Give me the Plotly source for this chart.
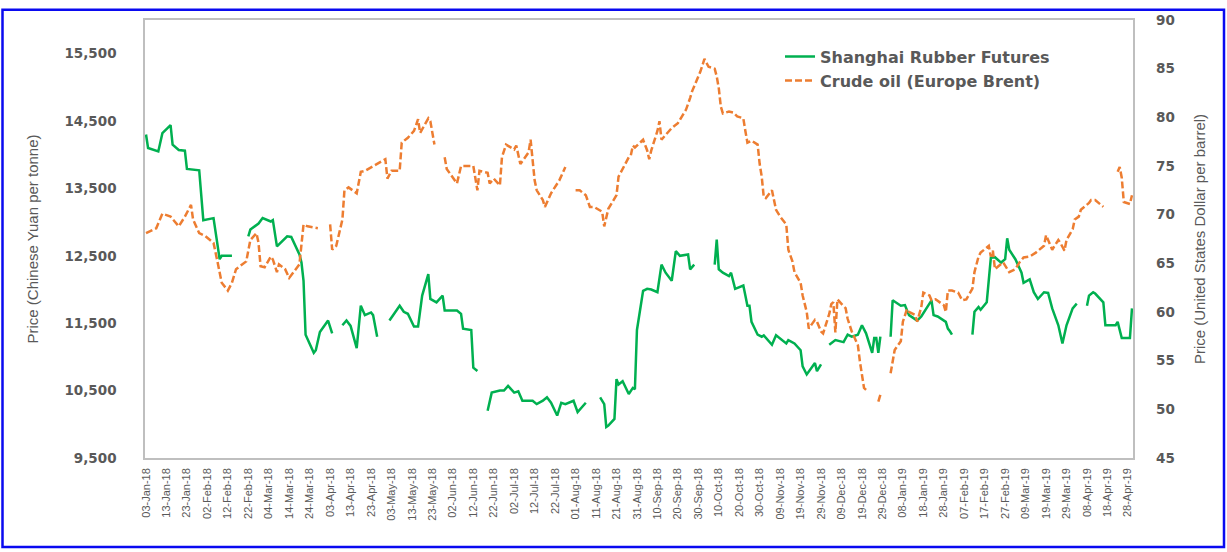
import plotly.graph_objects as go

# ---------------- data ----------------
rubber_dates = [
    "2018-01-03", "2018-01-04", "2018-01-09", "2018-01-11", "2018-01-15", "2018-01-16", "2018-01-19",
    "2018-01-22", "2018-01-23", "2018-01-29", "2018-01-31", "2018-02-05", "2018-02-08", "2018-02-09",
    "2018-02-14", "2018-02-19", "2018-02-22", "2018-02-23", "2018-02-27", "2018-03-01", "2018-03-05",
    "2018-03-06", "2018-03-08", "2018-03-13", "2018-03-15", "2018-03-19", "2018-03-20", "2018-03-21",
    "2018-03-22", "2018-03-26", "2018-03-27", "2018-03-29", "2018-04-02", "2018-04-04", "2018-04-06",
    "2018-04-09", "2018-04-11", "2018-04-13", "2018-04-16", "2018-04-18", "2018-04-20", "2018-04-23",
    "2018-04-24", "2018-04-26", "2018-04-30", "2018-05-02", "2018-05-07", "2018-05-09", "2018-05-11",
    "2018-05-14", "2018-05-16", "2018-05-18", "2018-05-21", "2018-05-22", "2018-05-25", "2018-05-28",
    "2018-05-29", "2018-06-04", "2018-06-06", "2018-06-07", "2018-06-11", "2018-06-12", "2018-06-14",
    "2018-06-18", "2018-06-19", "2018-06-21", "2018-06-25", "2018-06-27", "2018-06-29", "2018-07-02",
    "2018-07-04", "2018-07-06", "2018-07-11", "2018-07-13", "2018-07-16", "2018-07-18", "2018-07-20",
    "2018-07-23", "2018-07-25", "2018-07-27", "2018-07-31", "2018-08-02", "2018-08-06", "2018-08-08",
    "2018-08-13", "2018-08-15", "2018-08-16", "2018-08-17", "2018-08-20", "2018-08-21", "2018-08-22",
    "2018-08-24", "2018-08-27", "2018-08-29", "2018-08-30", "2018-08-31", "2018-09-03", "2018-09-05",
    "2018-09-07", "2018-09-10", "2018-09-12", "2018-09-14", "2018-09-17", "2018-09-19", "2018-09-21",
    "2018-09-25", "2018-09-26", "2018-09-28", "2018-10-01", "2018-10-08", "2018-10-09", "2018-10-10",
    "2018-10-12", "2018-10-15", "2018-10-16", "2018-10-18", "2018-10-22", "2018-10-23", "2018-10-24",
    "2018-10-25", "2018-10-26", "2018-10-29", "2018-10-31", "2018-11-01", "2018-11-05", "2018-11-07",
    "2018-11-12", "2018-11-13", "2018-11-16", "2018-11-19", "2018-11-20", "2018-11-22", "2018-11-26",
    "2018-11-27", "2018-11-29", "2018-11-30", "2018-12-03", "2018-12-06", "2018-12-10", "2018-12-12",
    "2018-12-14", "2018-12-17", "2018-12-19", "2018-12-21", "2018-12-24", "2018-12-25", "2018-12-26",
    "2018-12-27", "2018-12-28", "2018-12-31", "2019-01-02", "2019-01-03", "2019-01-07", "2019-01-09",
    "2019-01-11", "2019-01-15", "2019-01-17", "2019-01-21", "2019-01-22", "2019-01-23", "2019-01-25",
    "2019-01-29", "2019-01-30", "2019-01-31", "2019-02-01", "2019-02-04", "2019-02-11", "2019-02-12",
    "2019-02-14", "2019-02-15", "2019-02-18", "2019-02-19", "2019-02-20", "2019-02-22", "2019-02-25",
    "2019-02-27", "2019-02-28", "2019-03-01", "2019-03-04", "2019-03-07", "2019-03-08", "2019-03-11",
    "2019-03-13", "2019-03-15", "2019-03-18", "2019-03-20", "2019-03-22", "2019-03-25", "2019-03-27",
    "2019-03-29", "2019-04-01", "2019-04-03", "2019-04-05", "2019-04-08", "2019-04-09", "2019-04-11",
    "2019-04-12", "2019-04-16", "2019-04-17", "2019-04-22", "2019-04-23", "2019-04-25", "2019-04-29",
    "2019-04-30",
]
rubber_values = [
    14300, 14100, 14050, 14320, 14440, 14150, 14070,
    14060, 13790, 13770, 13030, 13060, 12450, 12500,
    12500, None, 12790, 12890, 12980, 13060, 13010,
    13030, 12640, 12790, 12780, 12520, 12400, 12130,
    11330, 11060, 11100, 11370, 11540, 11350, None,
    11470, 11540, 11460, 11130, 11760, 11620, 11660,
    11620, 11300, None, 11540, 11760, 11670, 11640,
    11450, 11450, 11910, 12230, 11860, 11810, 11910,
    11690, 11690, 11640, 11420, 11400, 10840, 10790,
    None, 10200, 10470, 10500, 10500, 10570, 10470,
    10490, 10350, 10350, 10300, 10350, 10400, 10320,
    10130, 10320, 10300, 10350, 10180, 10320, None,
    10400, 10300, 9960, 9980, 10080, 10670, 10590,
    10640, 10450, 10540, 10520, 11400, 11980, 12010,
    12000, 11960, 12370, 12250, 12130, 12570, 12500,
    12520, 12300, 12370, None, 12370, 12740, 12300,
    12250, 12200, 12250, 12010, 12060, 11910, 11760,
    11760, 11520, 11330, 11300, 11320, 11180, 11320,
    11200, 11250, 11200, 11100, 10860, 10740, 10910,
    10790, 10890, None, 11180, 11250, 11220, 11330,
    11300, 11330, 11470, 11350, 11060, 11280, 11280,
    11060, 11300, None, 11300, 11840, 11760, 11770,
    11620, 11540, 11600, 11790, 11840, 11620, 11600,
    11520, 11420, 11380, 11330, None, 11330, 11670,
    11740, 11700, 11810, 12200, 12470, 12480, 12400,
    12450, 12760, 12590, 12450, 12250, 12100, 12150,
    11960, 11860, 11960, 11950, 11720, 11470, 11200,
    11470, 11720, 11790, None, 11760, 11910, 11960,
    11940, 11810, 11470, 11470, 11520, 11280, 11280,
    11720,
]

brent_dates = [
    "2018-01-03", "2018-01-08", "2018-01-11", "2018-01-15", "2018-01-17", "2018-01-19", "2018-01-22",
    "2018-01-25", "2018-01-26", "2018-01-29", "2018-02-01", "2018-02-05", "2018-02-07", "2018-02-09",
    "2018-02-12", "2018-02-14", "2018-02-16", "2018-02-21", "2018-02-23", "2018-02-26", "2018-02-27",
    "2018-02-28", "2018-03-02", "2018-03-05", "2018-03-06", "2018-03-08", "2018-03-09", "2018-03-12",
    "2018-03-14", "2018-03-19", "2018-03-21", "2018-03-23", "2018-03-28", "2018-03-30", "2018-04-03",
    "2018-04-04", "2018-04-06", "2018-04-09", "2018-04-10", "2018-04-12", "2018-04-16", "2018-04-18",
    "2018-04-20", "2018-04-24", "2018-04-27", "2018-04-30", "2018-05-01", "2018-05-03", "2018-05-07",
    "2018-05-08", "2018-05-11", "2018-05-14", "2018-05-16", "2018-05-17", "2018-05-21", "2018-05-22",
    "2018-05-24", "2018-05-28", "2018-05-29", "2018-05-30", "2018-06-01", "2018-06-04", "2018-06-06",
    "2018-06-08", "2018-06-12", "2018-06-14", "2018-06-15", "2018-06-19", "2018-06-20", "2018-06-22",
    "2018-06-25", "2018-06-26", "2018-06-28", "2018-07-02", "2018-07-03", "2018-07-05", "2018-07-09",
    "2018-07-10", "2018-07-11", "2018-07-12", "2018-07-13", "2018-07-16", "2018-07-17", "2018-07-20",
    "2018-07-24", "2018-07-27", "2018-07-30", "2018-08-01", "2018-08-03", "2018-08-06", "2018-08-08",
    "2018-08-10", "2018-08-14", "2018-08-15", "2018-08-16", "2018-08-17", "2018-08-21", "2018-08-22",
    "2018-08-27", "2018-08-28", "2018-08-29", "2018-08-30", "2018-09-03", "2018-09-05", "2018-09-06",
    "2018-09-07", "2018-09-10", "2018-09-11", "2018-09-12", "2018-09-14", "2018-09-17", "2018-09-20",
    "2018-09-24", "2018-09-26", "2018-09-27", "2018-10-01", "2018-10-02", "2018-10-03", "2018-10-05",
    "2018-10-08", "2018-10-09", "2018-10-10", "2018-10-11", "2018-10-12", "2018-10-15", "2018-10-17",
    "2018-10-19", "2018-10-22", "2018-10-23", "2018-10-24", "2018-10-26", "2018-10-29", "2018-10-30",
    "2018-10-31", "2018-11-01", "2018-11-02", "2018-11-05", "2018-11-07", "2018-11-09", "2018-11-12",
    "2018-11-13", "2018-11-15", "2018-11-16", "2018-11-19", "2018-11-20", "2018-11-22", "2018-11-23",
    "2018-11-26", "2018-11-27", "2018-11-28", "2018-11-29", "2018-11-30", "2018-12-03", "2018-12-04",
    "2018-12-05", "2018-12-06", "2018-12-07", "2018-12-10", "2018-12-11", "2018-12-12", "2018-12-14",
    "2018-12-17", "2018-12-18", "2018-12-20", "2018-12-21", "2018-12-24", "2018-12-27", "2018-12-28",
    "2018-12-31", "2019-01-02", "2019-01-03", "2019-01-04", "2019-01-07", "2019-01-08", "2019-01-10",
    "2019-01-11", "2019-01-14", "2019-01-15", "2019-01-17", "2019-01-18", "2019-01-21", "2019-01-22",
    "2019-01-24", "2019-01-28", "2019-01-29", "2019-01-30", "2019-02-01", "2019-02-04", "2019-02-06",
    "2019-02-08", "2019-02-11", "2019-02-12", "2019-02-14", "2019-02-15", "2019-02-19", "2019-02-20",
    "2019-02-21", "2019-02-22", "2019-02-26", "2019-03-01", "2019-03-04", "2019-03-06", "2019-03-08",
    "2019-03-11", "2019-03-14", "2019-03-18", "2019-03-19", "2019-03-21", "2019-03-22", "2019-03-25",
    "2019-03-26", "2019-03-28", "2019-03-29", "2019-04-01", "2019-04-02", "2019-04-04", "2019-04-05",
    "2019-04-09", "2019-04-10", "2019-04-12", "2019-04-15", "2019-04-16", "2019-04-18", "2019-04-23",
    "2019-04-24", "2019-04-25", "2019-04-26", "2019-04-29", "2019-04-30",
]
brent_values = [
    68.1, 68.6, 70.1, 69.8, 69.3, 68.8, 69.8,
    71.0, 69.5, 68.1, 67.8, 67.1, 65.1, 63.0,
    62.2, 63.0, 64.4, 65.2, 67.4, 68.1, 67.1,
    64.7, 64.6, 65.7, 65.4, 64.1, 64.9, 64.4,
    63.5, 64.9, 69.0, 68.8, 68.6, None, 69.0,
    66.4, 66.8, 69.5, 72.5, 72.8, 72.2, 74.4,
    74.5, 75.0, 75.4, 75.7, 73.7, 74.5, 74.5,
    77.4, 77.9, 78.6, 79.8, 78.4, 79.9, 79.6,
    77.2, None, 75.9, 74.7, 74.1, 73.2, 75.0,
    75.0, 75.0, 72.5, 74.5, 74.3, 73.2, 73.7,
    73.0, 75.9, 77.2, 76.7, 77.1, 75.2, 76.4,
    77.7, 75.9, 73.5, 72.5, 71.5, 70.8, 72.2,
    73.5, 74.9, None, 72.5, 72.5, 72.0, 70.8,
    70.8, 70.3, 68.8, 69.8, 70.6, 72.0, 73.9,
    75.9, 76.1, 77.1, 76.9, 77.7, 76.6, 75.7,
    76.6, 78.6, 79.6, 77.7, 78.2, 78.9, 79.4,
    80.8, 82.0, 82.7, 84.7, 85.5, 86.0, 85.2,
    85.0, 84.2, 83.0, 81.1, 80.4, 80.6, 80.5,
    80.1, 79.9, 78.6, 77.4, 77.6, 77.2, 75.2,
    73.9, 71.8, 71.7, 72.5, 70.5, 69.8, 69.0,
    66.4, 65.2, 64.1, 63.0, 61.7, 60.0, 58.3,
    59.2, 59.0, 58.5, 58.0, 57.8, 59.8, 60.8,
    61.0, 57.9, 61.3, 60.6, 60.4, 59.3, 58.0,
    56.6, 54.9, 52.2, 52.0, None, 50.8, 51.5,
    None, 53.7, 54.9, 56.1, 57.0, 59.0, 60.3,
    60.0, 59.7, 59.0, 60.5, 62.0, 61.7, 61.2,
    61.3, 60.7, 60.0, 62.2, 62.2, 62.0, 61.2,
    61.3, 62.4, 64.1, 65.7, 66.1, 66.8, 65.7,
    66.3, 64.4, 65.1, 64.1, 64.4, 65.1, 65.6,
    65.7, 66.1, 66.8, 67.9, 66.9, 66.4, 67.4,
    67.1, 66.3, 67.4, 68.5, 69.5, 69.8, 70.5,
    71.2, 71.5, 71.5, 71.0, 70.8, None, 74.4,
    74.9, 73.8, 71.3, 71.1, 72.0,
]

left_ticks = [9500, 10500, 11500, 12500, 13500, 14500, 15500]
right_ticks = [45, 50, 55, 60, 65, 70, 75, 80, 85, 90]

GREEN = "#00B050"
ORANGE = "#ED7D31"
GRAY = "#595959"

fig = go.Figure()
fig.add_trace(go.Scatter(
    x=rubber_dates, y=rubber_values, name="Shanghai Rubber Futures",
    mode="lines", line=dict(color=GREEN, width=2.5), connectgaps=False, yaxis="y",
))
fig.add_trace(go.Scatter(
    x=brent_dates, y=brent_values, name="Crude oil (Europe Brent)",
    mode="lines", line=dict(color=ORANGE, width=2.5, dash="7px,3px"), connectgaps=False, yaxis="y2",
))

L, R, T, B = 145, 94, 13, 94
W, H = 1227, 552
pw, ph = W - L - R, H - T - B

fig.update_layout(
    width=W, height=H,
    margin=dict(l=L, r=R, t=T, b=B, pad=0),
    paper_bgcolor="white", plot_bgcolor="white",
    showlegend=True,
    legend=dict(
        x=(780 - L) / pw, y=(H - B - 33) / ph, xanchor="left", yanchor="top",
        bgcolor="rgba(0,0,0,0)", borderwidth=0,
        font=dict(family="DejaVu Sans", size=16, color=GRAY, weight="bold"),
        tracegroupgap=0,
    ),
    xaxis=dict(
        type="date",
        range=["2018-01-02 12:00", "2019-04-30 12:00"],
        tick0="2018-01-03", dtick=10 * 86400000,
        tickformat="%d-%b-%y", tickangle=-90,
        tickfont=dict(family="Liberation Sans", size=11, color=GRAY),
        showgrid=False, zeroline=False,
        showline=True, linecolor="#BFBFBF", linewidth=1.5, mirror=True,
        ticks="", ticklabelstandoff=4,
    ),
    yaxis=dict(
        range=[9500, 16000], tickvals=left_ticks, tickformat=",",
        tickfont=dict(family="DejaVu Sans", size=13.5, color=GRAY, weight="bold"),
        showgrid=False, zeroline=False,
        showline=True, linecolor="#BFBFBF", linewidth=1.5, mirror=True,
        ticks="", ticklabelstandoff=24,
        title=dict(text="Price (Chinese Yuan per tonne)",
                   font=dict(family="Liberation Sans", size=15, color=GRAY), standoff=22),
    ),
    yaxis2=dict(
        range=[45, 90], tickvals=right_ticks, overlaying="y", side="right",
        tickfont=dict(family="DejaVu Sans", size=13.5, color=GRAY, weight="bold"),
        showgrid=False, zeroline=False, showline=False,
        ticks="", ticklabelstandoff=22,
        title=dict(text="Price (United States Dollar per barrel)",
                   font=dict(family="Liberation Sans", size=15, color=GRAY), standoff=20),
    ),
)

# outer blue frame around the whole picture
fig.add_shape(
    type="rect", xref="paper", yref="paper", layer="above",
    x0=(2.5 - L) / pw, x1=(W - 3 - L) / pw,
    y0=(H - B - (H - 3.5)) / ph, y1=(H - B - 2.5) / ph,
    line=dict(color="#0A0AF0", width=2.5), fillcolor="rgba(0,0,0,0)",
)

pin_page = (
    "document.documentElement.style.margin='0';"
    "document.body.style.margin='0';document.body.style.padding='0';"
    "var gd=document.getElementById('{plot_id}');"
    "gd.style.position='absolute';gd.style.left='0px';gd.style.top='0px';"
)

fig.write_html("out.html", post_script=pin_page, config={"displayModeBar": False})
